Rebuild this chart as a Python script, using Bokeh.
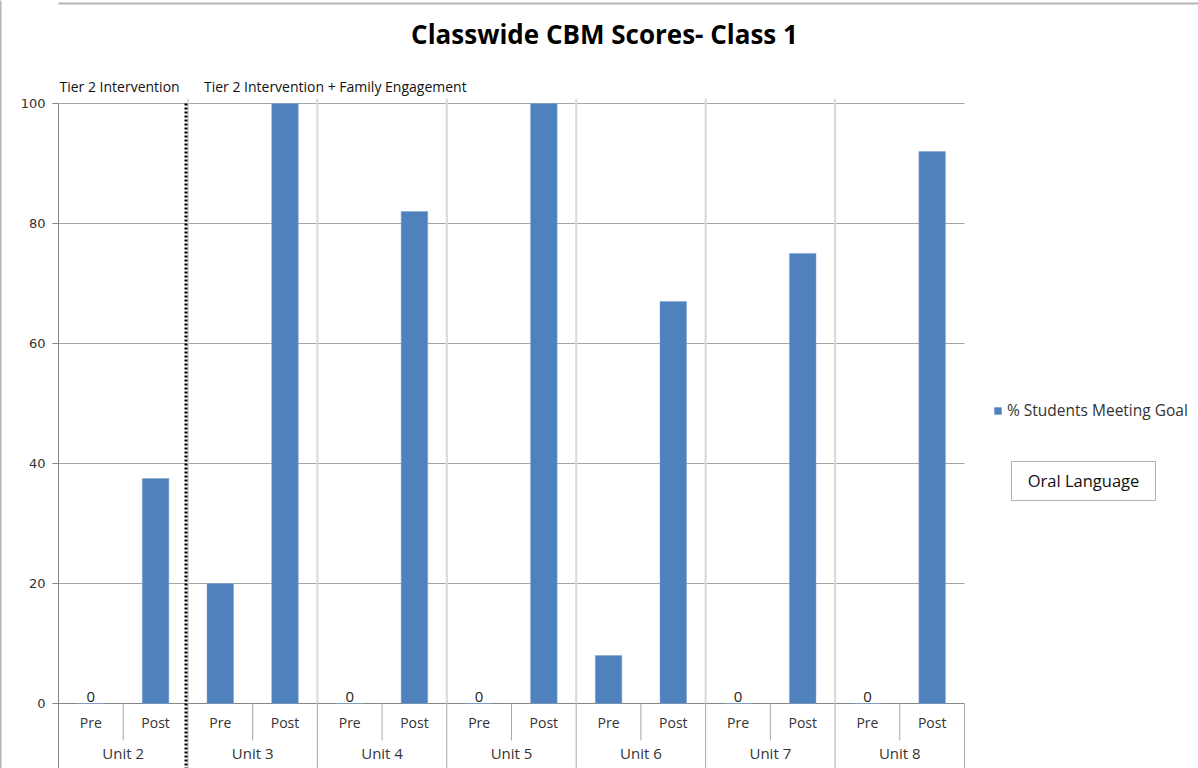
from bokeh.plotting import figure
from bokeh.models import Range1d, FixedTicker, Label, PolyAnnotation, ColumnDataSource, LinearAxis
from bokeh.core.properties import value
from bokeh.embed import file_html
from bokeh.resources import INLINE

# ---------------- data ----------------
units = ["Unit 2", "Unit 3", "Unit 4", "Unit 5", "Unit 6", "Unit 7", "Unit 8"]
phases = ["Pre", "Post"]
pct_meeting_goal = [0, 37.5, 20, 100, 0, 82, 0, 100, 8, 67, 0, 75, 0, 92]
y_ticks = [0, 20, 40, 60, 80, 100]
title_text = "Classwide CBM Scores- Class 1"
series_name = "% Students Meeting Goal"
phase_notes = ["Tier 2 Intervention", "Tier 2 Intervention + Family Engagement"]
box_note = "Oral Language"

# ---------------- layout ----------------
W, H = 1198, 768
FL, FR, FT, F0 = 58, 964, 103, 703   # plot-area left/right, pixel of 100 and of 0
n_cat = len(units) * len(phases)
ppx = (FR - FL) / n_cat
ppy = (F0 - FT) / 100.0
y_min = -(H - F0) / ppy
y_max = F0 / ppy
x_max = (W - FL) / ppx

def X(px):
    return (px - FL) / ppx

def Y(py):
    return (F0 - py) / ppy

FONT = "Open Sans"
TXT = "#333333"

p = figure(width=W, height=H, x_range=Range1d(0, x_max), y_range=Range1d(y_min, y_max),
           min_border_left=FL, min_border_right=0, min_border_top=0, min_border_bottom=0,
           output_backend="svg", toolbar_location=None, x_axis_location=None,
           y_axis_location=None, title=None)
p.outline_line_color = None
p.background_fill_color = "white"
p.border_fill_color = "white"
p.xgrid.visible = False
p.ygrid.visible = False

# y axis
yax = LinearAxis(ticker=FixedTicker(ticks=y_ticks), bounds=(y_min, y_ticks[-1]))
yax.axis_line_color = "#868686"
yax.major_tick_line_color = "#868686"
yax.major_tick_out = 6
yax.major_tick_in = 0
yax.minor_tick_line_color = None
yax.major_label_text_font = "DejaVu Sans"
yax.major_label_text_font_size = "13px"
yax.major_label_text_color = TXT
yax.major_label_standoff = 7
yax.axis_label = " "
yax.axis_label_text_font_size = "10px"
yax.axis_label_standoff = 3
p.add_layout(yax, "left")

# outer chart border (left edge) as a bare axis line
bax = LinearAxis(ticker=FixedTicker(ticks=[]), axis_line_color="#b5b5b5", axis_line_width=2,
                 major_label_text_font_size="0px", major_tick_line_color=None,
                 minor_tick_line_color=None, major_label_standoff=0)
p.add_layout(bax, "left")

# horizontal gridlines over the plot area
gx0 = [0] * len(y_ticks)
gx1 = [n_cat] * len(y_ticks)
p.segment(x0=gx0, y0=y_ticks, x1=gx1, y1=y_ticks,
          line_color=["#868686"] + ["#a6a6a6"] * (len(y_ticks) - 1), line_width=1)

# category positions
cat_x = [i + 0.5 for i in range(n_cat)]
cat_phase = [phases[i % len(phases)] for i in range(n_cat)]
unit_x = [len(phases) * k + len(phases) / 2 for k in range(len(units))]
unit_bounds = [len(phases) * k for k in range(len(units) + 1)]
phase_bounds = [len(phases) * k + 1 for k in range(len(units))]

# light unit separators in plot area
sep_x = unit_bounds[1:-1]
p.segment(x0=sep_x, y0=[0] * len(sep_x), x1=sep_x, y1=[100.8] * len(sep_x),
          line_color="#d9d9d9", line_width=2)

# bars
src = ColumnDataSource(dict(x=cat_x, top=pct_meeting_goal))
p.vbar(x="x", top="top", width=0.41, source=src, fill_color="#4F81BD",
       line_color="#7fa3d1", line_width=0.5, legend_label=series_name)

# zero data labels
zx = [cat_x[i] for i, v in enumerate(pct_meeting_goal) if v == 0]
zt = ["0" for v in pct_meeting_goal if v == 0]
p.text(x=zx, y=[0] * len(zx), text=zt, text_align="center", text_baseline="bottom",
       y_offset=-2, text_font=value(FONT), text_font_size="15px", text_color="#222222")

# category axis area
ax_col = "#a6a6a6"
p.segment(x0=unit_bounds[1:], y0=[0] * len(units), x1=unit_bounds[1:],
          y1=[y_min] * len(units), line_color=ax_col, line_width=1)
p.segment(x0=phase_bounds, y0=[0] * len(phase_bounds), x1=phase_bounds,
          y1=[Y(740)] * len(phase_bounds), line_color=ax_col, line_width=1)
p.text(x=cat_x, y=[Y(722)] * n_cat, text=cat_phase, text_align="center",
       text_baseline="middle", text_font=value(FONT), text_font_size="14px", text_color=TXT)
p.text(x=unit_x, y=[Y(752)] * len(units), text=units, text_align="center",
       text_baseline="middle", text_font=value(FONT), text_font_size="15px", text_color=TXT)

# dotted phase-change line between Unit 2 and Unit 3
bx = unit_bounds[1]
p.segment(x0=[bx - 0.03], y0=[100], x1=[bx - 0.03], y1=[y_min], line_color="black",
          line_width=3, line_dash="2 2")

# phase notes
p.add_layout(Label(x=0, y=Y(86), text=phase_notes[0], x_offset=1, text_baseline="middle",
                   text_font=FONT, text_font_size="14px", text_color="#111111"))
p.add_layout(Label(x=bx, y=Y(86), text=phase_notes[1], x_offset=16, text_baseline="middle",
                   text_font=FONT, text_font_size="14px", text_color="#111111"))

# title
p.add_layout(Label(x=X(604), y=Y(33), text=title_text, text_align="center",
                   text_baseline="middle", text_font=FONT, text_font_size="26px",
                   text_font_style="bold", text_color="#000000"))

# legend
lg = p.legend[0]
lg.location = (935, 347)
lg.glyph_width = 9
lg.glyph_height = 9
lg.label_standoff = 5
lg.padding = 0
lg.margin = 0
lg.border_line_color = None
lg.background_fill_alpha = 0
lg.label_text_font = FONT
lg.label_text_font_size = "15.5px"
lg.label_text_color = TXT

# "Oral Language" box
p.add_layout(PolyAnnotation(xs=[X(1011), X(1155), X(1155), X(1011)],
                            ys=[Y(461), Y(461), Y(500), Y(500)],
                            fill_color=None, line_color="black", line_width=1))
p.add_layout(Label(x=X(1083), y=Y(480), text=box_note, text_align="center",
                   text_baseline="middle", text_font=FONT, text_font_size="16.5px",
                   text_color="#111111"))

# chart border (top edge)
p.segment(x0=[X(0)], y0=[Y(3)], x1=[X(W)], y1=[Y(3)], line_color="#b5b5b5", line_width=2)

open("out.html", "w").write(file_html(p, INLINE))
